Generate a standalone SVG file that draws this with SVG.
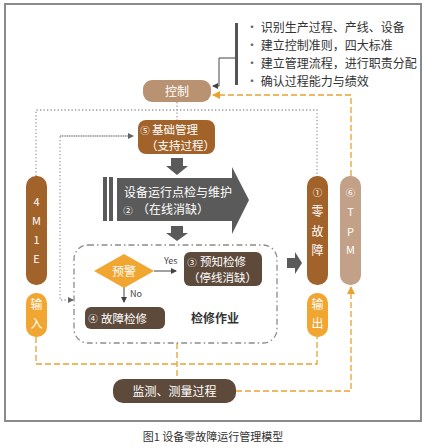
<svg xmlns="http://www.w3.org/2000/svg" width="425" height="448" viewBox="0 0 425 448">
<defs>
<style>
text{font-family:"Noto Sans CJK SC","Liberation Sans",sans-serif;}
.w{fill:#fff;font-size:12px;text-anchor:middle;}
.w2{fill:#fff;font-size:11.5px;}
.ws{fill:#fff;font-size:11px;text-anchor:middle;}
.num{fill:#fff;font-size:9.5px;text-anchor:middle;}
.dk{fill:#333;font-size:12px;}
.dot{fill:none;stroke:#999;stroke-width:1.3;stroke-dasharray:1.3,2.2;}
.od{fill:none;stroke:#e9a232;stroke-width:1.3;stroke-dasharray:6,3;}
.gl{fill:none;stroke:#444;stroke-width:1;}
.brown{fill:#a2632b;}
.tan{fill:#b99272;}
.ltan{fill:#c3a188;}
.dbr{fill:#5e4a3b;}
.org{fill:#f0a631;}
.garr{fill:#5a5a5a;}
</style>
<marker id="ag" markerWidth="6" markerHeight="6" refX="5" refY="3" orient="auto" markerUnits="userSpaceOnUse"><path d="M0,0 L6,3 L0,6 z" fill="#444"/></marker>
<marker id="ao" markerWidth="8" markerHeight="8" refX="7" refY="4" orient="auto" markerUnits="userSpaceOnUse"><path d="M0,0 L8,4 L0,8 z" fill="#e9a232"/></marker>
<marker id="ad" markerWidth="6" markerHeight="6" refX="5" refY="3" orient="auto" markerUnits="userSpaceOnUse"><path d="M0,0 L6,3 L0,6 z" fill="#666"/></marker>
</defs>
<rect x="5" y="4" width="416" height="417" fill="#fff" stroke="#8a8a8a" stroke-width="2"/>

<g id="connectors">
<path class="gl" d="M236,58 H219 V86 H213" marker-end="url(#ag)"/>
<path class="od" d="M351,176 V95 H213" marker-end="url(#ao)"/>
<path class="dot" d="M36,176 V110 H317 V176"/>
<path class="dot" d="M177,102 V120"/>
<path class="dot" d="M133,136 H60 V300 H73" marker-end="url(#ad)"/>
<path class="dot" d="M60,136 H133" marker-end="url(#ad)"/>
<path class="gl" d="M154,271 H176" marker-end="url(#ag)"/>
<path class="gl" d="M124,287 V302" marker-end="url(#ag)"/>
<path class="od" d="M36,337 V364 H317 V337"/>
<path class="od" d="M177,343 V379"/>
<path class="od" d="M236,391 H351 V287" marker-end="url(#ao)"/>
<polygon class="garr" points="171,158 183,158 183,166 188,166 177,175 166,166 171,166"/>
<polygon class="garr" points="171,226 183,226 183,233 188,233 177,241 166,233 171,233"/>
<polygon class="garr" points="287,258 295,258 295,252 302,263 295,274 295,268 287,268"/>
</g>

<g id="bullets">
<rect x="235" y="23" width="3" height="62" fill="#555"/>
<text class="dk" x="246" y="32"><tspan fill="#666">·</tspan> 识别生产过程、产线、设备</text>
<text class="dk" x="246" y="50"><tspan fill="#666">·</tspan> 建立控制准则，四大标准</text>
<text class="dk" x="246" y="68"><tspan fill="#666">·</tspan> 建立管理流程，进行职责分配</text>
<text class="dk" x="246" y="86"><tspan fill="#666">·</tspan> 确认过程能力与绩效</text>
</g>

<g id="control">
<rect class="tan" x="143" y="80" width="68" height="22" rx="9"/>
<text class="w" x="177" y="95.5">控制</text>
</g>

<g id="basic">
<rect class="brown" x="138" y="120" width="77" height="34" rx="8"/>
<text class="num" x="145" y="134">⑤</text>
<text class="w2" x="152" y="134">基础管理</text>
<text class="w2" x="146" y="149.5">（支持过程）</text>
</g>

<g id="inspect">
<rect x="103" y="177" width="4" height="44" fill="#5a5a5a"/>
<rect x="109" y="177" width="4" height="44" fill="#5a5a5a"/>
<polygon class="garr" points="117,178 232,178 232,167 249,200 232,234 232,221 117,221"/>
<text fill="#fff" font-size="12" x="124" y="197">设备运行点检与维护</text>
<text class="num" x="128" y="214">②</text>
<text fill="#fff" font-size="12" x="137" y="214">（在线消缺）</text>
</g>

<g id="maint">
<rect x="74" y="245" width="203" height="98" rx="14" fill="none" stroke="#8c8c8c" stroke-width="1.3" stroke-dasharray="6,3,1.5,3"/>
<text class="dk" x="215" y="323" text-anchor="middle" font-weight="bold" fill="#3a3a3a">检修作业</text>
</g>

<g id="warn">
<polygon class="org" points="94,271 124,254 154,271 124,288"/>
<text class="w" x="124" y="275.5">预警</text>
<text x="164" y="264" font-size="9" fill="#444" font-family="Liberation Sans,sans-serif">Yes</text>
<text x="130" y="297" font-size="9" fill="#444" font-family="Liberation Sans,sans-serif">No</text>
</g>

<g id="predict">
<rect class="dbr" x="184" y="252" width="78" height="34" rx="6"/>
<text class="num" x="192" y="266">③</text>
<text class="w2" x="200" y="266">预知检修</text>
<text class="w2" x="188" y="281.5">（停线消缺）</text>
</g>

<g id="fault">
<rect class="dbr" x="85" y="307" width="80" height="22" rx="6"/>
<text class="num" x="93" y="322">④</text>
<text class="w2" x="101" y="322.5">故障检修</text>
</g>

<g id="m4e">
<rect class="brown" x="26" y="176" width="21" height="109" rx="10"/>
<text class="ws" x="36.5" y="206">4</text>
<text class="ws" x="36.5" y="225">M</text>
<text class="ws" x="36.5" y="244">1</text>
<text class="ws" x="36.5" y="263">E</text>
</g>

<g id="input">
<rect class="org" x="26" y="293" width="21" height="44" rx="10"/>
<text class="w" x="36.5" y="309">输</text>
<text class="w" x="36.5" y="328">入</text>
</g>

<g id="zero">
<rect class="brown" x="307" y="176" width="21" height="109" rx="10"/>
<text class="num" x="317.5" y="196">①</text>
<text class="w" x="317.5" y="216">零</text>
<text class="w" x="317.5" y="236">故</text>
<text class="w" x="317.5" y="255">障</text>
</g>

<g id="tpm">
<rect class="ltan" x="340" y="176" width="21" height="109" rx="10"/>
<text class="num" x="350.5" y="196">⑥</text>
<text class="ws" x="350.5" y="216">T</text>
<text class="ws" x="350.5" y="236">P</text>
<text class="ws" x="350.5" y="254">M</text>
</g>

<g id="output">
<rect class="org" x="307" y="293" width="21" height="44" rx="10"/>
<text class="w" x="317.5" y="309">输</text>
<text class="w" x="317.5" y="328">出</text>
</g>

<g id="monitor">
<rect class="dbr" x="113" y="379" width="123" height="24" rx="10"/>
<text class="w" x="174.5" y="395.5">监测、测量过程</text>
</g>

<text x="213" y="441" font-size="11" fill="#333" text-anchor="middle">图1  设备零故障运行管理模型</text>
</svg>
